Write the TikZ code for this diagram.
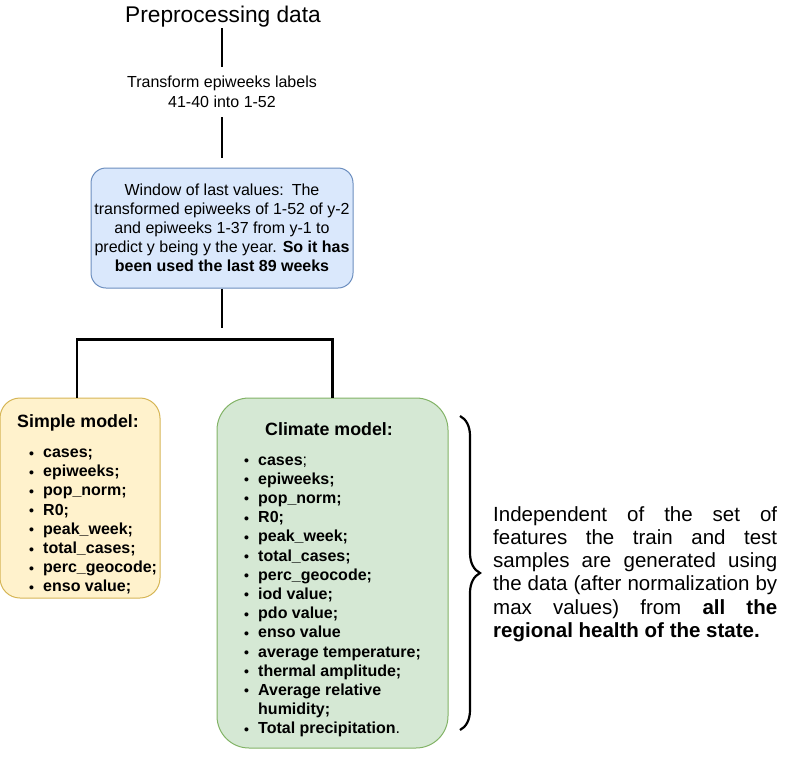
\documentclass[tikz,border=0pt]{standalone}
\usepackage{fontspec}
\setmainfont{Liberation Sans}
\usetikzlibrary{decorations.pathreplacing}
\definecolor{bluefill}{HTML}{DAE8FC}
\definecolor{blueline}{HTML}{6C8EBF}
\definecolor{yellowfill}{HTML}{FFF2CC}
\definecolor{yellowline}{HTML}{D6B656}
\definecolor{greenfill}{HTML}{D5E8D4}
\definecolor{greenline}{HTML}{82B366}
\newcommand\dotitem{\makebox[14pt][l]{\raisebox{-0.5pt}{\fontsize{14}{14}\selectfont\textbullet}}}
\tikzset{ box/.style  = { draw
                        , line width   = 1pt
                        , inner sep    = 0pt
                        },
          txt/.style  = { inner sep    = 0pt
                        , font         = \fontsize{16}{20}\selectfont
                        },
          head/.style = { inner sep    = 0pt
                        , font         = \fontsize{17.8}{20}\selectfont\bfseries
                        },
          list/.style = { inner sep    = 0pt
                        , font         = \fontsize{16}{19.2}\selectfont\bfseries
                        },
          conn/.style = { line width   = 2.8pt
                        }
        }
\begin{document}
\begin{tikzpicture}[x=1pt, y=-1pt]
    \useasboundingbox (0,0) rectangle (803,766);
    \node[inner sep=1.5pt, anchor=base, font=\fontsize{22.7}{26}\selectfont] (prep) at (223,22) {Preprocessing data};
    \node[txt, inner sep=9pt, align=center] (transform) at (222,92) {Transform epiweeks labels\\41-40 into 1-52};
    \node[box, fill=bluefill, draw=blueline, rounded corners=15pt, minimum width=262pt, minimum height=120pt,
          align=center, font=\fontsize{16}{19}\selectfont] (window) at (222,228)
          {Window of last values:\hspace{8pt}The\\
           transformed epiweeks of 1-52 of y-2\\
           and epiweeks 1-37 from y-1 to\\
           predict y being y the year. \textbf{So it has}\\
           \textbf{been used the last 89 weeks}};
    \node[box, fill=yellowfill, draw=yellowline, rounded corners=20pt, minimum width=160pt,
          minimum height=200pt] (simple) at (80,498) {};
    \node[box, fill=greenfill, draw=greenline, rounded corners=32pt, minimum width=231pt,
          minimum height=350pt] (climate) at (332.5,573) {};
    \coordinate (fork) at (222,339.3);
    \draw[conn] (prep.south -| transform) -- (transform);
    \draw[conn, shorten >=10pt] (transform) -- (window);
    \draw[conn, shorten >=11pt] (window) -- (fork);
    \draw[conn] ([xshift=-3pt]simple.north) |- (fork) -| (climate.north);
    \node[head, anchor=base west] (simplehead) at (17,427) {Simple model:};
    \node[list, anchor=base west] (simplelist) at (29,457.5) {\begin{tabular}[t]{@{}l@{}l@{}}
        \dotitem & cases;\\
        \dotitem & epiweeks;\\
        \dotitem & pop\_norm;\\
        \dotitem & R0;\\
        \dotitem & peak\_week;\\
        \dotitem & total\_cases;\\
        \dotitem & perc\_geocode;\\
        \dotitem & enso value;
      \end{tabular}};
    \node[head, anchor=base west] (climatehead) at (265,435) {Climate model:};
    \node[list, anchor=base west] (climatelist) at (244,465) {\begin{tabular}[t]{@{}l@{}l@{}}
        \dotitem & cases{\mdseries;}\\
        \dotitem & epiweeks;\\
        \dotitem & pop\_norm;\\
        \dotitem & R0;\\
        \dotitem & peak\_week;\\
        \dotitem & total\_cases;\\
        \dotitem & perc\_geocode;\\
        \dotitem & iod value;\\
        \dotitem & pdo value;\\
        \dotitem & enso value\\
        \dotitem & average temperature;\\
        \dotitem & thermal amplitude;\\
        \dotitem & Average relative\\
                 & humidity;\\
        \dotitem & Total precipitation{\mdseries.}
      \end{tabular}};
    \draw[line width=2.2pt, decorate, decoration={brace, amplitude=20pt}] (460,416) -- (460,730);
    \node[inner sep=0pt, anchor=north west, text width=284pt, align=justify,
          font=\fontsize{20.5}{23.2}\selectfont] (note) at (493,506.3)
          {Independent of the set of\linebreak
           features the train and test\linebreak
           samples are generated using\linebreak
           the data (after normalization by\linebreak
           max values) from \textbf{all the}\linebreak
           \textbf{regional health of the state.}};
\end{tikzpicture}
\end{document}
